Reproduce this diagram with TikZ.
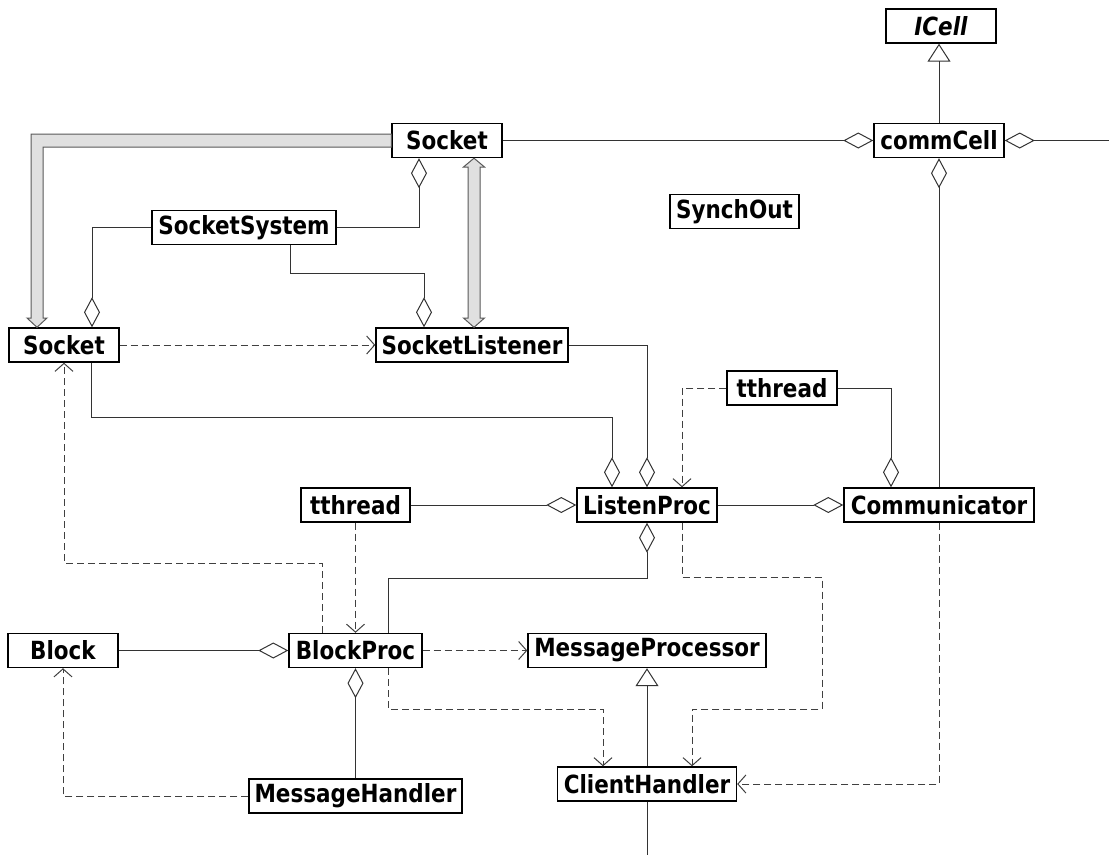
\documentclass[tikz,border=0pt]{standalone}
\usepackage{fontspec}
\setmainfont{DejaVu Sans}[FakeStretch=0.86]
\usetikzlibrary{arrows.meta,calc}

\tikzset{
  cls/.style={draw=black, line width=1.4pt, fill=white, inner sep=0pt,
    minimum height=34pt, font=\fontsize{25}{29}\selectfont\bfseries},
  link/.style={draw=black!80, line width=1pt},
  dep/.style={draw=black!75, line width=1pt, dash pattern=on 7pt off 4pt,
    -{Straight Barb[length=8pt,width=18pt]}},
  agg/.style={link, -{Diamond[open,length=30pt,width=16pt]}},
  aggfrom/.style={link, {Diamond[open,length=30pt,width=16pt]}-},
  gen/.style={link, -{Triangle[open,length=18pt,width=23pt]}},
  fat/.style={draw=black!65, line width=1pt, fill=black!12, line join=miter},
}

\begin{document}
\begin{tikzpicture}[x=1pt, y=-1pt]
\useasboundingbox (0,0) rectangle (1109,855);

% classes
\node[cls, minimum width=110pt] (icell) at (941,26) {\itshape ICell};
\node[cls, minimum width=130pt] (cell) at (939,140.5) {commCell};
\node[cls, minimum width=110pt] (sockTop) at (447,140.5) {Socket};
\node[cls, minimum width=129pt] (synch) at (734.5,211.5) {SynchOut};
\node[cls, minimum width=184pt] (sys) at (244,227.5) {SocketSystem};
\node[cls, minimum width=110pt] (sockLow) at (64,345) {Socket};
\node[cls, minimum width=192pt] (sockL) at (472,345) {SocketListener};
\node[cls, minimum width=110pt] (thR) at (782,388) {tthread};
\node[cls, minimum width=140pt] (lp) at (647,505) {ListenProc};
\node[cls, minimum width=190pt] (comm) at (939,505) {Communicator};
\node[cls, minimum width=109pt] (thL) at (355.5,505) {tthread};
\node[cls, minimum width=133pt] (bp) at (355.5,650.5) {BlockProc};
\node[cls, minimum width=110pt] (block) at (63,650.5) {Block};
\node[cls, minimum width=238pt] (mp) at (647,650.5) {MessageProcessor};
\node[cls, minimum width=213pt] (mh) at (355.5,796) {MessageHandler};
\node[cls, minimum width=179pt] (ch) at (647,784) {ClientHandler};

\coordinate (rightEnd) at (1109,140.5);
\coordinate (bottomEnd) at (647,855);

% commCell and its neighbours
\draw[gen] (cell.north) -- (icell.south -| cell.north);
\draw[agg] (sockTop.east) -- (cell.west);
\draw[aggfrom] (cell.east) -- (rightEnd);
\draw[aggfrom] (cell.south) -- (comm.north);

% socket system
\draw[agg] (sys.west) -| (sockLow.north -| 92,0);
\draw[agg] (sys.east) -| (sockTop.south -| 419,0);
\draw[agg] (sys.south -| 290,0) |- (424,273) -- (sockL.north -| 424,0);
\draw[dep] (sockLow.east) -- (sockL.west);

% thick hollow arrows
\draw[fat] ($(sockTop.west)+(0,-6.5)$) -- (31,134) -- (31,318) -- (27,318)
  -- (sockLow.north -| 37,0) -- (47,318) -- (43,318) -- (43,147)
  -- ($(sockTop.west)+(0,6.5)$) -- cycle;
\draw[fat] (sockTop.south -| 474,0) -- (484.5,167) -- (480,167) -- (480,318)
  -- (484.5,318) -- (sockL.north -| 474,0) -- (463.5,318) -- (468,318)
  -- (468,167) -- (463.5,167) -- cycle;

% ListenProc
\draw[agg] (sockLow.south -| 91,0) |- (612,417) -- (lp.north -| 612,0);
\draw[agg] (sockL.east) -| (lp.north);
\draw[dep] (thR.west) -| (lp.north -| 682,0);
\draw[agg] (thR.east) -| (comm.north -| 891,0);
\draw[agg] (lp.east) -- (comm.west);
\draw[agg] (thL.east) -- (lp.west);
\draw[dep] (thL.south) -- (bp.north);
\draw[agg] (bp.north -| 388,0) |- (647,578) -- (lp.south);

% BlockProc
\draw[dep] (bp.north -| 322,0) |- (64,563) -- (sockLow.south -| 64,0);
\draw[agg] (block.east) -- (bp.west);
\draw[agg] (mh.north) -- (bp.south);
\draw[dep] (mh.west) -| (block.south);
\draw[dep] (bp.east) -- (mp.west);

% ClientHandler
\draw[dep] (bp.south -| 388,0) |- (603,709) -- (ch.north -| 603,0);
\draw[dep] (lp.south -| 682,0) |- (822,577) |- (692,709) -- (ch.north -| 692,0);
\draw[dep] (comm.south) |- (ch.east);
\draw[gen] (ch.north) -- (mp.south);
\draw[link] (ch.south) -- (bottomEnd);
\end{tikzpicture}
\end{document}
